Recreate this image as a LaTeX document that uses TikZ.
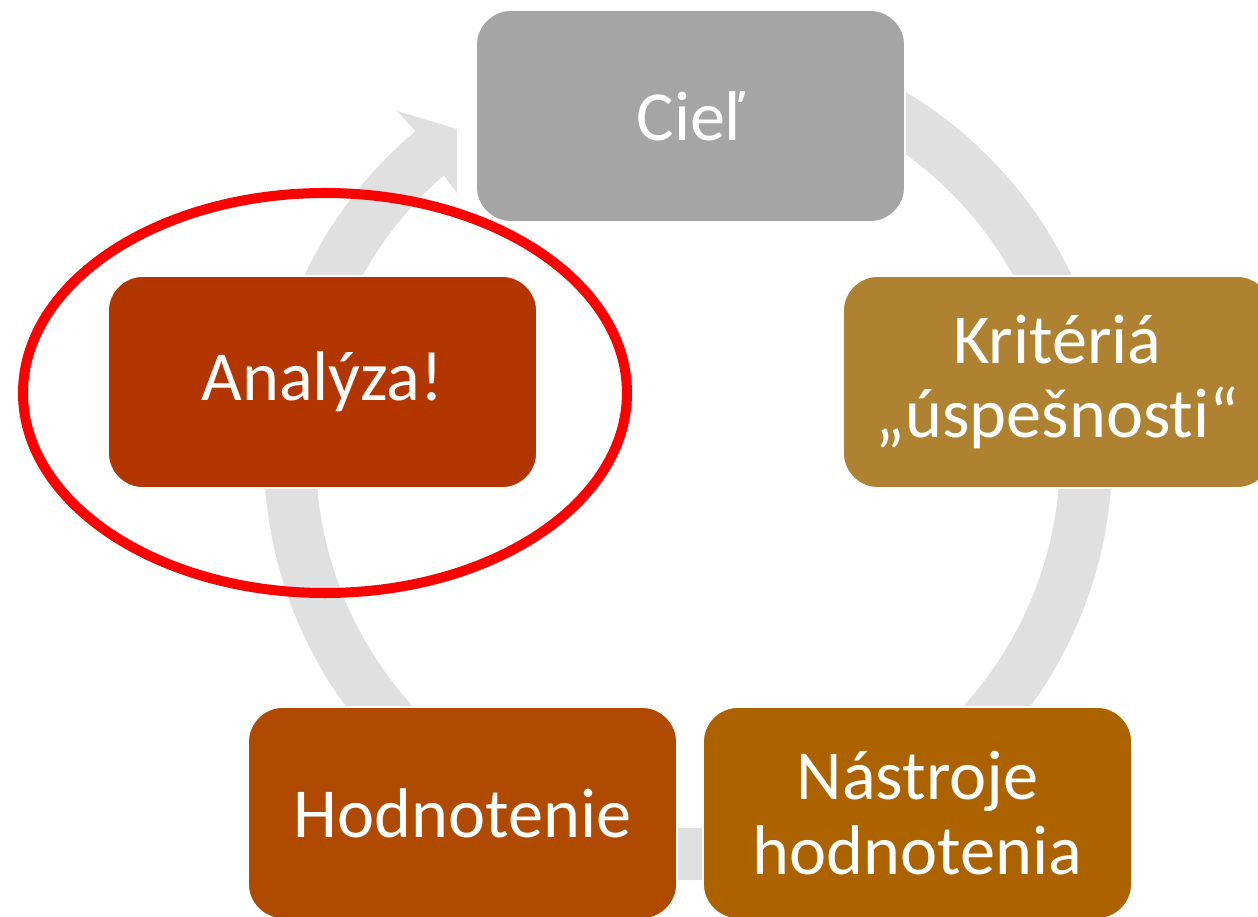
\documentclass[tikz,border=0pt]{standalone}
\usepackage{fontspec}
\setmainfont{Carlito}[Ligatures=NoCommon]
\usetikzlibrary{calc}

\definecolor{ringgray}{HTML}{E0E0E0}
\definecolor{cielgray}{HTML}{A5A5A5}
\definecolor{kritgold}{HTML}{AE8230}
\definecolor{analred}{HTML}{B33500}
\definecolor{hodnbrown}{HTML}{B04A00}
\definecolor{nastorange}{HTML}{AD6200}

\begin{document}
\begin{tikzpicture}[
  box/.style={rounded corners=0.7cm, draw=white, line width=1pt, text=white, align=center,
    minimum width=8.58cm, minimum height=4.24cm, inner sep=2pt,
    font=\fontsize{40}{42.5}\selectfont},
  ring/.style={fill=ringgray}
]
\useasboundingbox (0,0) rectangle (25.16,18.32);
\clip (0,0) rectangle (25.16,18.32);
% circular arrow behind the boxes
\coordinate (c) at (13.76,9.2);
\coordinate (barbout) at (7.94,16.1);
\coordinate (headtop) at (9.14,15.74);
\coordinate (barbin) at (9.14,14.46);
\fill[ring] ($(c)+(62:8.48)$) arc[start angle=62, end angle=-230, radius=8.48]
  -- (barbout) -- (headtop) -- (barbin)
  -- ($(c)+(-229:7.44)$) arc[start angle=-229, end angle=62, radius=7.44] -- cycle;
% cycle steps
\node[box, fill=cielgray] (ciel) at (13.81,16.0) {Cieľ};
\node[box, fill=kritgold] (krit) at (21.15,10.68) {Kritériá\\„úspešnosti“};
\node[box, fill=nastorange] (nastroje) at (18.35,2.06) {Nástroje\\hodnotenia};
\node[box, fill=hodnbrown] (hodn) at (9.25,2.06) {Hodnotenie};
\node[box, fill=analred] (analyza) at (6.45,10.68) {Analýza!};
% highlight
\draw[red, line width=5.7pt] (6.5,10.46) ellipse [x radius=6.04, y radius=4.0];
\end{tikzpicture}
\end{document}
